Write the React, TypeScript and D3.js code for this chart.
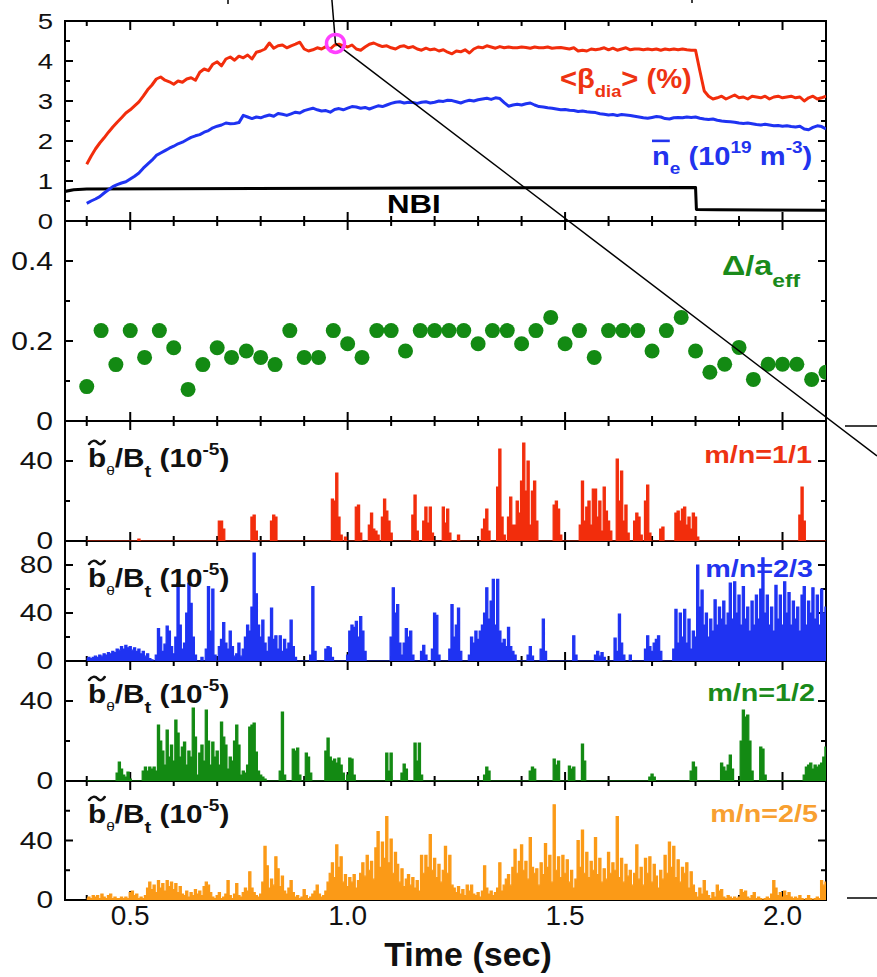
import React from 'react';
import * as d3 from 'd3';

const W = 877;
const H = 977;
const FONT = '"Liberation Sans", Arial, Helvetica, sans-serif';

const PLOT_LEFT = 65;
const PLOT_RIGHT = 826;
const TIME_DOMAIN: [number, number] = [0.35, 2.1];

// Time axis ticks (shared by every panel)
const TIME_MAJOR = [0.5, 1.0, 1.5, 2.0];
const TIME_MAJOR_LABELS = ['0.5', '1.0', '1.5', '2.0'];
const TIME_MINOR = [0.4, 0.6, 0.7, 0.8, 0.9, 1.1, 1.2, 1.3, 1.4, 1.6, 1.7, 1.8, 1.9];

// y ticks per panel
const BETA_TICKS = [0, 1, 2, 3, 4, 5];
const BETA_TICK_LABELS = ['0', '1', '2', '3', '4', '5'];
const BETA_MINOR = [0.5, 1.5, 2.5, 3.5, 4.5];
const DELTA_TICKS = [0, 0.2, 0.4];
const DELTA_TICK_LABELS = ['0', '0.2', '0.4'];
const DELTA_MINOR = [0.1, 0.3];
const B60_TICKS = [0, 40];
const B60_TICK_LABELS = ['0', '40'];
const B60_MINOR = [20];
const B100_TICKS = [0, 40, 80];
const B100_TICK_LABELS = ['0', '40', '80'];
const B100_MINOR = [20, 60];
const B80_TICKS = [0, 40];
const B80_TICK_LABELS = ['0', '40'];
const B80_MINOR = [20, 60];

// Slow signals: sampled every 10 ms from 0.40 s
const SLOW_T0 = 0.4;
const SLOW_DT = 0.01;
const BETA_DIA = [
  1.42, 1.62, 1.80, 1.95, 2.08, 2.22, 2.35, 2.47, 2.58, 2.70,
  2.78, 2.88, 2.98, 3.12, 3.28, 3.40, 3.55, 3.60, 3.52, 3.48,
  3.42, 3.50, 3.47, 3.55, 3.58, 3.52, 3.72, 3.80, 3.76, 3.92,
  3.98, 3.88, 4.05, 4.10, 4.02, 4.12, 4.08, 4.15, 4.05, 4.22,
  4.25, 4.30, 4.45, 4.32, 4.38, 4.40, 4.33, 4.38, 4.42, 4.47,
  4.30, 4.25, 4.28, 4.33, 4.30, 4.36, 4.30, 4.40, 4.42, 4.38,
  4.35, 4.40, 4.30, 4.27, 4.35, 4.42, 4.45, 4.40, 4.36, 4.38,
  4.33, 4.30, 4.36, 4.38, 4.33, 4.36, 4.30, 4.27, 4.32, 4.28,
  4.30, 4.25, 4.28, 4.22, 4.18, 4.25, 4.23, 4.28, 4.20, 4.30,
  4.35, 4.33, 4.38, 4.35, 4.32, 4.36, 4.33, 4.35, 4.33, 4.33,
  4.35, 4.34, 4.32, 4.35, 4.33, 4.33, 4.35, 4.32, 4.33, 4.34,
  4.32, 4.30, 4.33, 4.25, 4.27, 4.25, 4.30, 4.28, 4.30, 4.33,
  4.28, 4.32, 4.27, 4.30, 4.33, 4.28, 4.30, 4.30, 4.28, 4.30,
  4.28, 4.30, 4.27, 4.30, 4.28, 4.30, 4.28, 4.30, 4.28, 4.27,
  4.27, 3.75, 3.25, 3.12, 3.05, 3.08, 3.12, 3.05, 3.10, 3.15,
  3.08, 3.10, 3.05, 3.12, 3.10, 3.08, 3.12, 3.05, 3.10, 3.12,
  3.08, 3.10, 3.12, 3.08, 3.10, 3.00, 3.08, 3.12, 3.05, 3.08,
  3.12,
];
const NE_LINE = [
  0.44, 0.50, 0.55, 0.61, 0.70, 0.78, 0.86, 0.91, 0.95, 0.98,
  1.05, 1.12, 1.20, 1.32, 1.42, 1.52, 1.64, 1.70, 1.76, 1.82,
  1.87, 1.93, 1.97, 2.03, 2.09, 2.13, 2.16, 2.22, 2.26, 2.33,
  2.37, 2.40, 2.45, 2.43, 2.44, 2.46, 2.64, 2.60, 2.56, 2.60,
  2.58, 2.62, 2.65, 2.62, 2.69, 2.67, 2.64, 2.68, 2.72, 2.70,
  2.76, 2.79, 2.82, 2.78, 2.75, 2.76, 2.72, 2.79, 2.81, 2.78,
  2.82, 2.86, 2.85, 2.82, 2.84, 2.80, 2.84, 2.88, 2.86, 2.90,
  2.94, 2.97, 2.98, 2.95, 2.97, 2.96, 2.94, 2.97, 2.98, 2.95,
  2.97, 3.00, 2.99, 3.02, 3.01, 2.98, 2.95, 2.99, 3.02, 3.00,
  3.03, 3.05, 3.07, 3.04, 3.08, 3.06, 2.96, 2.87, 2.90, 2.92,
  2.90, 2.93, 2.95, 2.90, 2.86, 2.85, 2.83, 2.82, 2.80, 2.78,
  2.79, 2.77, 2.76, 2.74, 2.75, 2.73, 2.72, 2.71, 2.68, 2.67,
  2.65, 2.66, 2.64, 2.66, 2.65, 2.64, 2.62, 2.60, 2.58, 2.57,
  2.59, 2.61, 2.60, 2.56, 2.55, 2.58, 2.59, 2.58, 2.60, 2.59,
  2.60, 2.57, 2.55, 2.54, 2.55, 2.52, 2.50, 2.49, 2.48, 2.47,
  2.45, 2.44, 2.45, 2.43, 2.41, 2.40, 2.42, 2.40, 2.38, 2.39,
  2.37, 2.38, 2.36, 2.35, 2.37, 2.30, 2.28, 2.34, 2.38, 2.36,
  2.30,
];

// NBI waveform (step down at 1.8 s)
const NBI_T = [0.35, 0.37, 0.40, 1.00, 1.80, 1.802, 1.85, 2.10];
const NBI_V = [0.74, 0.78, 0.80, 0.82, 0.84, 0.29, 0.28, 0.27];

// Island width Δ/a_eff
const DELTA_T = [
  0.400, 0.433, 0.467, 0.500, 0.533, 0.567, 0.600, 0.633, 0.667, 0.700,
  0.733, 0.767, 0.800, 0.833, 0.867, 0.900, 0.933, 0.967, 1.000, 1.033,
  1.067, 1.100, 1.133, 1.167, 1.200, 1.233, 1.267, 1.300, 1.333, 1.367,
  1.400, 1.433, 1.467, 1.500, 1.533, 1.567, 1.600, 1.633, 1.667, 1.700,
  1.733, 1.767, 1.800, 1.833, 1.867, 1.900, 1.933, 1.967, 2.000, 2.033,
  2.067, 2.100,
];
const DELTA_V = [
  0.086, 0.226, 0.141, 0.226, 0.159, 0.226, 0.183, 0.079, 0.141, 0.183,
  0.159, 0.175, 0.159, 0.141, 0.226, 0.159, 0.159, 0.226, 0.193, 0.159,
  0.226, 0.226, 0.175, 0.226, 0.226, 0.226, 0.226, 0.193, 0.226, 0.226,
  0.193, 0.226, 0.259, 0.193, 0.226, 0.159, 0.226, 0.226, 0.226, 0.175,
  0.226, 0.259, 0.175, 0.122, 0.142, 0.184, 0.104, 0.142, 0.142, 0.142,
  0.104, 0.122,
];

// Mode amplitudes b_θ/B_t (1e-5), sampled every 5 ms from 0.40 s
const MODE_T0 = 0.4;
const MODE_DT = 0.005;
const MODE_1_1 = [
  0, 0, 0, 0, 0, 0, 0, 0, 0, 0, 0, 0, 0, 0, 0, 0, 0, 0, 0, 0,
  0, 0, 0, 0, 1, 0, 0, 0, 0, 0, 0, 0, 0, 0, 0, 0, 0, 0, 0, 0,
  0, 0, 0, 0, 0, 0, 0, 0, 0, 0, 0, 0, 0, 0, 0, 0, 0, 0, 0, 0,
  0, 10, 10, 6, 0, 0, 0, 0, 0, 0, 0, 0, 0, 0, 0, 0, 12, 13, 5, 0,
  0, 0, 0, 0, 0, 10, 13, 12, 0, 0, 0, 0, 0, 0, 0, 0, 0, 0, 0, 0,
  0, 0, 0, 0, 0, 0, 0, 0, 0, 0, 0, 0, 0, 21, 20, 34, 12, 3, 0, 2,
  0, 0, 0, 0, 17, 18, 4, 0, 0, 0, 8, 14, 6, 5, 3, 0, 12, 21, 15, 10,
  4, 0, 0, 0, 0, 0, 0, 0, 0, 0, 13, 23, 5, 0, 0, 10, 17, 9, 17, 4,
  0, 0, 0, 0, 17, 9, 16, 4, 0, 0, 0, 3, 0, 0, 0, 0, 0, 0, 0, 0,
  0, 0, 6, 11, 16, 5, 0, 0, 0, 27, 46, 12, 3, 0, 12, 22, 8, 8, 20, 14,
  30, 49, 25, 40, 8, 25, 30, 10, 0, 0, 0, 0, 0, 0, 0, 18, 20, 16, 3, 0,
  0, 0, 0, 0, 0, 0, 0, 8, 30, 10, 17, 20, 8, 26, 26, 12, 20, 5, 27, 15,
  10, 5, 0, 0, 41, 20, 35, 10, 18, 4, 0, 0, 10, 14, 12, 3, 0, 20, 28, 4,
  0, 0, 0, 0, 6, 7, 0, 0, 0, 0, 0, 14, 15, 10, 16, 17, 8, 12, 6, 14,
  12, 2, 0, 0, 0, 0, 0, 0, 0, 0, 0, 0, 0, 0, 0, 0, 0, 0, 0, 0,
  0, 0, 0, 0, 0, 0, 0, 0, 0, 0, 0, 0, 0, 0, 0, 0, 0, 0, 0, 0,
  0, 0, 0, 0, 0, 0, 0, 0, 13, 27, 10, 0, 0, 0, 0, 0, 0, 0, 0, 0,
  0,
];
const MODE_2_3 = [
  2, 3, 2, 3, 4, 3, 5, 4, 6, 5, 7, 6, 8, 7, 10, 9, 12, 10, 13, 11,
  12, 9, 11, 8, 10, 6, 8, 4, 6, 2, 1, 0, 5, 27, 20, 8, 14, 29, 25, 12,
  6, 20, 65, 30, 10, 15, 40, 65, 48, 20, 5, 0, 0, 3, 0, 10, 62, 25, 60, 5,
  0, 12, 18, 32, 15, 10, 25, 12, 4, 6, 15, 4, 10, 20, 30, 25, 45, 90, 56, 30,
  20, 34, 15, 8, 20, 44, 18, 21, 10, 21, 8, 18, 10, 15, 34, 12, 3, 0, 0, 0,
  0, 0, 0, 5, 62, 8, 0, 0, 0, 0, 10, 12, 11, 3, 0, 0, 0, 0, 0, 0,
  5, 25, 30, 28, 33, 20, 37, 25, 8, 0, 0, 0, 0, 0, 0, 0, 0, 0, 0, 0,
  20, 61, 40, 47, 15, 5, 15, 27, 20, 25, 5, 0, 0, 0, 8, 13, 5, 0, 0, 10,
  40, 38, 5, 0, 0, 0, 0, 10, 47, 20, 30, 44, 8, 0, 0, 0, 5, 20, 15, 25,
  18, 25, 30, 40, 61, 35, 50, 68, 30, 68, 25, 15, 18, 12, 28, 12, 8, 5, 0, 0,
  0, 0, 0, 5, 12, 4, 0, 0, 0, 10, 35, 8, 0, 0, 0, 0, 0, 0, 0, 0,
  0, 0, 0, 0, 21, 5, 0, 0, 0, 0, 0, 0, 0, 0, 5, 8, 4, 7, 3, 0,
  0, 0, 0, 19, 8, 39, 15, 5, 0, 0, 5, 0, 0, 0, 0, 0, 0, 10, 21, 12,
  8, 15, 18, 21, 8, 0, 0, 0, 0, 0, 10, 43, 15, 40, 20, 43, 15, 35, 10, 25,
  20, 80, 45, 59, 30, 40, 20, 35, 25, 51, 30, 45, 35, 50, 30, 40, 65, 35, 66, 40,
  55, 30, 62, 35, 45, 25, 50, 30, 55, 35, 60, 86, 40, 55, 30, 45, 25, 63, 35, 55,
  30, 66, 40, 57, 30, 50, 35, 45, 25, 55, 62, 30, 50, 40, 61, 35, 55, 30, 60, 40,
  45,
];
const MODE_1_2 = [
  0, 0, 0, 0, 0, 0, 0, 0, 0, 0, 0, 0, 0, 0, 4, 9.5, 6, 3, 2, 4.5,
  1, 0, 0, 0, 0, 0, 5, 7, 5, 7, 6, 7, 5, 28, 20, 15, 8, 25.5, 12, 18,
  10, 30.5, 24, 12, 17, 19.5, 8, 15, 12, 36.5, 22, 3, 14, 18, 10, 35.5, 20, 8, 19.5, 12,
  15, 8, 29.5, 22, 18, 6, 12, 10, 20, 28, 18, 3, 5, 4, 8, 27, 28, 29, 14.5, 5,
  3, 2, 1, 0, 0, 0, 0, 0, 0, 5, 34.5, 3, 0, 0, 0, 16, 15, 16.5, 3, 0,
  0, 14, 12, 4, 0, 0, 0, 0, 0, 0, 15, 21.5, 12, 10, 11, 9, 11.5, 8, 4, 0,
  3, 11.5, 11, 3, 0, 0, 0, 0, 0, 0, 0, 0, 0, 0, 0, 0, 0, 0, 14, 5,
  14, 0, 0, 0, 0, 4, 8.5, 6, 0, 0, 0, 19, 10, 19, 3, 0, 0, 0, 0, 0,
  0, 0, 0, 0, 0, 0, 0, 0, 0, 0, 0, 0, 0, 0, 0, 0, 0, 0, 0, 0,
  0, 0, 0, 3, 7, 5, 0, 0, 0, 0, 0, 0, 0, 0, 0, 0, 0, 0, 0, 0,
  0, 0, 0, 0, 5, 7, 6, 0, 0, 0, 0, 0, 0, 0, 0, 11, 8, 10, 0, 0,
  0, 0, 7.5, 6, 7, 0, 0, 0, 18.5, 10, 0, 0, 0, 0, 0, 0, 0, 0, 0, 0,
  0, 0, 0, 0, 0, 0, 0, 0, 0, 0, 0, 0, 0, 0, 0, 0, 0, 0, 0, 2,
  3.5, 2, 0, 0, 0, 0, 0, 0, 0, 0, 0, 0, 0, 0, 0, 0, 0, 0, 5, 9.5,
  7, 0, 0, 0, 0, 0, 0, 0, 0, 0, 0, 0, 9, 7, 5, 8, 13, 6, 0, 0,
  0, 20, 35.5, 32, 33, 20, 5, 0, 0, 0, 17, 16, 3, 0, 0, 0, 0, 0, 0, 0,
  0, 0, 0, 0, 0, 0, 0, 0, 0, 0, 3, 7, 8, 9, 6, 8, 7, 8, 9, 12,
  17,
];
const MODE_2_5 = [
  1, 2, 1, 3, 2, 3, 1, 4, 2, 1, 3, 4, 1, 2, 1, 1, 2, 1, 2, 1,
  5, 6, 3, 4, 1, 2, 1, 3, 8, 12, 7, 10, 5, 13, 8, 11, 6, 13, 9, 12,
  7, 11, 5, 9, 4, 3, 6, 2, 5, 3, 7, 4, 6, 3, 9, 12, 10, 5, 2, 1,
  3, 5, 1, 2, 4, 13, 3, 1, 4, 11, 3, 2, 5, 8, 6, 19, 8, 5, 3, 2,
  4, 12, 36, 23, 8, 14, 10, 29, 21, 9, 16, 6, 4, 8, 13, 5, 2, 3, 1, 2,
  7, 3, 1, 2, 4, 6, 10, 4, 2, 3, 6, 12, 18, 25, 15, 37, 22, 29, 12, 17,
  9, 15, 12, 17, 8, 13, 18, 25, 16, 30, 20, 26, 14, 35, 46, 22, 39, 28, 56, 25,
  41, 18, 32, 24, 12, 21, 9, 14, 17, 10, 15, 8, 13, 6, 30, 18, 30, 22, 44, 20,
  28, 15, 24, 12, 20, 36, 18, 30, 10, 8, 5, 9, 4, 7, 3, 10, 6, 10, 4, 3,
  5, 2, 6, 23, 8, 4, 6, 3, 5, 8, 25, 6, 10, 14, 17, 10, 22, 34, 18, 26,
  37, 20, 26, 14, 42, 22, 18, 21, 10, 25, 17, 38, 22, 30, 12, 64, 20, 29, 15, 30,
  18, 27, 12, 20, 8, 14, 40, 22, 47, 18, 32, 15, 26, 20, 42, 17, 28, 12, 21, 14,
  32, 18, 25, 20, 56, 15, 28, 12, 24, 16, 20, 10, 18, 37, 14, 22, 10, 28, 18, 29,
  12, 24, 16, 8, 20, 14, 30, 18, 39, 22, 36, 15, 27, 12, 22, 18, 25, 8, 19, 10,
  5, 2, 8, 4, 13, 6, 3, 1, 5, 2, 10, 6, 7, 2, 1, 3, 2, 1, 2, 1,
  2, 7, 5, 6, 2, 1, 3, 5, 1, 2, 1, 0, 1, 2, 1, 4, 13, 8, 3, 5,
  2, 6, 3, 5, 2, 1, 2, 1, 3, 1, 0, 1, 3, 1, 0, 1, 2, 1, 13, 10,
  12,
];

// Highlighted β point
const CALLOUT_T = 0.972;
const CALLOUT_V = 4.44;

const RED = '#f22d0c';
const BLUE = '#1f33f2';
const GREEN = '#138a13';
const ORANGE = '#fb9a17';
const MAGENTA = '#ff40ff';

// Panel layout (pixel frame of each stacked panel)
const LAYOUT = [
  { top: 21, bottom: 221 },
  { top: 221, bottom: 421 },
  { top: 421, bottom: 541 },
  { top: 541, bottom: 661 },
  { top: 661, bottom: 781 },
  { top: 781, bottom: 900 },
];

type Pt = { t: number; v: number };

const sampled = (t0: number, dt: number, vals: number[]): Pt[] =>
  vals.map((v, i) => ({ t: +(t0 + i * dt).toFixed(4), v }));

function Stretch({ x, y, sx = 1, children }: { x: number; y: number; sx?: number; children: React.ReactNode }) {
  return <g transform={`translate(${x},${y}) scale(${sx},1)`}>{children}</g>;
}

// tilde accent drawn over the "b" of the fluctuation labels
const TILDE_PATH = 'M1,-23 C3,-27 6,-27 8,-24.5 S12,-22 14,-26';

export default function App() {
  const x = d3.scaleLinear().domain(TIME_DOMAIN).range([PLOT_LEFT, PLOT_RIGHT]);

  const panels = [
    { domain: [0, 5], ticks: BETA_TICKS, labels: BETA_TICK_LABELS, minor: BETA_MINOR, fs: 22, sx: 1.25 },
    { domain: [0, 0.5], ticks: DELTA_TICKS, labels: DELTA_TICK_LABELS, minor: DELTA_MINOR, fs: 25, sx: 1.2 },
    { domain: [0, 60], ticks: B60_TICKS, labels: B60_TICK_LABELS, minor: B60_MINOR, fs: 23, sx: 1.3 },
    { domain: [0, 100], ticks: B100_TICKS, labels: B100_TICK_LABELS, minor: B100_MINOR, fs: 23, sx: 1.3 },
    { domain: [0, 60], ticks: B60_TICKS, labels: B60_TICK_LABELS, minor: B60_MINOR, fs: 23, sx: 1.3 },
    { domain: [0, 80], ticks: B80_TICKS, labels: B80_TICK_LABELS, minor: B80_MINOR, fs: 23, sx: 1.3 },
  ].map((p, i) => ({
    ...p,
    ...LAYOUT[i],
    y: d3.scaleLinear().domain(p.domain).range([LAYOUT[i].bottom, LAYOUT[i].top]),
  }));

  const yBeta = panels[0].y;
  const slowLine = d3
    .line<Pt>()
    .x((d) => x(d.t))
    .y((d) => yBeta(d.v));
  const beta = sampled(SLOW_T0, SLOW_DT, BETA_DIA);
  const ne = sampled(SLOW_T0, SLOW_DT, NE_LINE);
  const nbi = NBI_T.map((t, i) => ({ t, v: NBI_V[i] }));

  const modes = [
    { panel: 2, vals: MODE_1_1, color: RED, name: 'm/n=1/1', nameColor: '#ee3312', nameX: 812, nameY: 463, bY: 467 },
    { panel: 3, vals: MODE_2_3, color: BLUE, name: 'm/n=2/3', nameColor: '#2233ee', nameX: 813, nameY: 577, bY: 587 },
    { panel: 4, vals: MODE_1_2, color: GREEN, name: 'm/n=1/2', nameColor: '#1a8a1a', nameX: 815, nameY: 701, bY: 703 },
    { panel: 5, vals: MODE_2_5, color: ORANGE, name: 'm/n=2/5', nameColor: '#f8a030', nameX: 818, nameY: 822, bY: 823 },
  ];

  const calloutX = x(CALLOUT_T);
  const calloutY = yBeta(CALLOUT_V);

  return (
    <svg
      width={W}
      height={H}
      viewBox={`0 0 ${W} ${H}`}
      style={{ position: 'absolute', left: 0, top: 0, background: '#fff', display: 'block' }}
      fontFamily={FONT}
    >
      <rect x={0} y={0} width={W} height={H} fill="#fff" />
      <defs>
        {panels.map((p, i) => (
          <clipPath id={`clip-${i}`} key={i}>
            <rect x={PLOT_LEFT} y={p.top} width={PLOT_RIGHT - PLOT_LEFT} height={p.bottom - p.top} />
          </clipPath>
        ))}
      </defs>

      {/* panel frames and ticks */}
      {panels.map((p, i) => (
        <g key={`frame-${i}`} stroke="#000" strokeWidth={2}>
          <rect x={PLOT_LEFT} y={p.top} width={PLOT_RIGHT - PLOT_LEFT} height={p.bottom - p.top} fill="none" />
          {TIME_MAJOR.map((t) => (
            <g key={`M${t}`}>
              <line x1={x(t)} x2={x(t)} y1={p.top} y2={p.top + 9} />
              <line x1={x(t)} x2={x(t)} y1={p.bottom} y2={p.bottom - 9} />
            </g>
          ))}
          {TIME_MINOR.map((t) => (
            <g key={`m${t}`}>
              <line x1={x(t)} x2={x(t)} y1={p.top} y2={p.top + 5} />
              <line x1={x(t)} x2={x(t)} y1={p.bottom} y2={p.bottom - 5} />
            </g>
          ))}
          {p.ticks.map((v) => (
            <g key={`Y${v}`}>
              <line x1={PLOT_LEFT} x2={PLOT_LEFT + 8} y1={p.y(v)} y2={p.y(v)} />
              <line x1={PLOT_RIGHT} x2={PLOT_RIGHT - 8} y1={p.y(v)} y2={p.y(v)} />
            </g>
          ))}
          {p.minor.map((v) => (
            <g key={`y${v}`}>
              <line x1={PLOT_LEFT} x2={PLOT_LEFT + 5} y1={p.y(v)} y2={p.y(v)} />
              <line x1={PLOT_RIGHT} x2={PLOT_RIGHT - 5} y1={p.y(v)} y2={p.y(v)} />
            </g>
          ))}
        </g>
      ))}

      {/* y tick labels */}
      {panels.map((p, i) => (
        <g key={`yl-${i}`}>
          {p.ticks.map((v, k) => (
            <Stretch key={v} x={53} y={p.y(v) + p.fs * 0.36} sx={p.sx}>
              <text textAnchor="end" fontSize={p.fs} fill="#111">
                {p.labels[k]}
              </text>
            </Stretch>
          ))}
        </g>
      ))}

      {/* time tick labels and title */}
      {TIME_MAJOR.map((t, k) => (
        <text key={t} x={x(t)} y={925} textAnchor="middle" fontSize={28} fill="#111">
          {TIME_MAJOR_LABELS[k]}
        </text>
      ))}
      <text x={468} y={966} textAnchor="middle" fontSize={34} fontWeight="bold" fill="#111">
        Time (sec)
      </text>

      {/* panel 1: beta, density, NBI */}
      <g clipPath="url(#clip-0)" fill="none" strokeLinejoin="round">
        <path d={slowLine(nbi) || ''} stroke="#000" strokeWidth={3} />
        <path d={slowLine(ne) || ''} stroke={BLUE} strokeWidth={3} />
        <path d={slowLine(beta) || ''} stroke={RED} strokeWidth={3} />
      </g>
      <Stretch x={560} y={88} sx={1.08}>
        <text fontSize={27} fontWeight="bold" fill="#ee3312">
          <tspan>{'<β'}</tspan>
          <tspan fontSize={17} dy={9}>dia</tspan>
          <tspan dy={-9}>{'> (%)'}</tspan>
        </text>
      </Stretch>
      <Stretch x={652} y={165} sx={1.12}>
        <text fontSize={26} fontWeight="bold" fill="#2233ee">
          <tspan style={{ textDecoration: 'overline' }}>n</tspan>
          <tspan fontSize={17} dy={9}>e</tspan>
          <tspan dy={-9}>{' (10'}</tspan>
          <tspan fontSize={17} dy={-12}>19</tspan>
          <tspan dy={12}>{' m'}</tspan>
          <tspan fontSize={17} dy={-12}>-3</tspan>
          <tspan dy={12}>)</tspan>
        </text>
      </Stretch>
      <Stretch x={387} y={213} sx={1.25}>
        <text fontSize={25} fontWeight="bold" fill="#000">NBI</text>
      </Stretch>

      {/* panel 2: island width */}
      <g clipPath="url(#clip-1)">
        {DELTA_T.map((t, i) => (
          <circle key={t} cx={x(t)} cy={panels[1].y(DELTA_V[i])} r={7.5} fill={GREEN} />
        ))}
      </g>
      <Stretch x={722} y={275} sx={1.2}>
        <text fontSize={27} fontWeight="bold" fill="#1a8a1a">
          <tspan>Δ/a</tspan>
          <tspan fontSize={19} dy={12}>eff</tspan>
        </text>
      </Stretch>

      {/* panels 3-6: mode amplitudes */}
      {modes.map((m) => {
        const p = panels[m.panel];
        const pts = sampled(MODE_T0, MODE_DT, m.vals);
        const area = d3
          .area<Pt>()
          .x((d) => x(d.t))
          .y0(p.y(0))
          .y1((d) => p.y(d.v))
          .curve(d3.curveStep);
        const line = d3
          .line<Pt>()
          .x((d) => x(d.t))
          .y((d) => p.y(d.v))
          .curve(d3.curveStep);
        return (
          <g key={m.name}>
            <g clipPath={`url(#clip-${m.panel})`}>
              <path d={area(pts) || ''} fill={m.color} />
              <path d={line(pts) || ''} fill="none" stroke={m.color} strokeWidth={1.2} />
            </g>
            <Stretch x={88} y={m.bY} sx={1.19}>
              <path d={TILDE_PATH} fill="none" stroke="#111" strokeWidth={2.4} strokeLinecap="round" />
              <text fontSize={25} fontWeight="bold" fill="#111">
                <tspan>b</tspan>
                <tspan fontSize={13} fontWeight="normal" dy={8}>θ</tspan>
                <tspan dy={-8}>/B</tspan>
                <tspan fontSize={17} dy={10}>t</tspan>
                <tspan dy={-10}>{' (10'}</tspan>
                <tspan fontSize={16} dy={-12}>-5</tspan>
                <tspan dy={12}>)</tspan>
              </text>
            </Stretch>
            <Stretch x={m.nameX} y={m.nameY} sx={1.25}>
              <text textAnchor="end" fontSize={23} fontWeight="bold" fill={m.nameColor}>
                {m.name}
              </text>
            </Stretch>
          </g>
        );
      })}

      {/* callout marker with leader lines */}
      <g stroke="#000" strokeWidth={1.5} fill="none">
        <line x1={x(0.9638)} y1={0} x2={calloutX} y2={calloutY} />
        <line x1={calloutX} y1={calloutY} x2={W} y2={456} />
        <line x1={845} y1={LAYOUT[2].top + 5} x2={W} y2={LAYOUT[2].top + 5} />
        <line x1={847} y1={LAYOUT[5].bottom - 2} x2={W} y2={LAYOUT[5].bottom - 2} />
        <line x1={228} y1={0} x2={228} y2={4} />
        <line x1={692} y1={0} x2={692} y2={3} />
      </g>
      <circle cx={calloutX} cy={calloutY} r={9} fill="none" stroke={MAGENTA} strokeWidth={3.5} />
    </svg>
  );
}
